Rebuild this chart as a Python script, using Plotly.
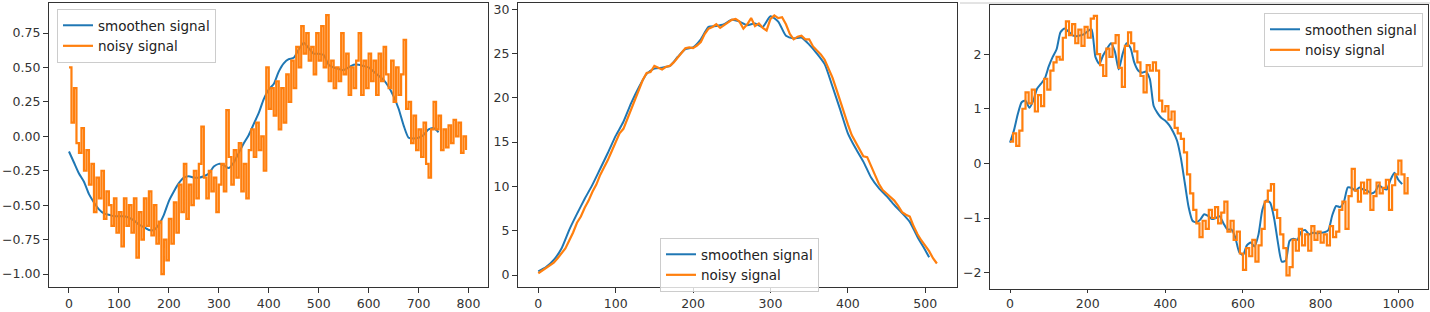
import plotly.graph_objects as go

# ---------------- Panel 1 data ----------------
p1_noisy_x = list(range(0, 800, 5))
p1_noisy_y = [
    0.50, 0.10, 0.35, -0.05, -0.12, 0.06, -0.25, -0.10, -0.35, -0.20,
    -0.55, -0.30, -0.45, -0.25, -0.60, -0.40, -0.50, -0.65, -0.45, -0.70,
    -0.55, -0.80, -0.45, -0.65, -0.50, -0.70, -0.45, -0.88, -0.55, -0.75,
    -0.45, -0.65, -0.40, -0.72, -0.50, -0.78, -0.62, -1.00, -0.75, -0.90,
    -0.60, -0.78, -0.48, -0.70, -0.35, -0.55, -0.20, -0.60, -0.35, -0.50,
    -0.25, -0.45, -0.20, 0.07, -0.30, -0.45, -0.25, -0.40, -0.30, -0.55,
    -0.35, -0.20, -0.40, 0.19, -0.15, -0.35, -0.10, -0.30, -0.05, -0.40,
    -0.20, -0.45, -0.10, 0.05, -0.15, 0.10, -0.10, 0.00, -0.25, 0.50,
    0.20, 0.35, 0.15, 0.40, 0.05, 0.35, 0.10, 0.45, 0.25, 0.55,
    0.35, 0.65, 0.50, 0.80, 0.60, 0.75, 0.55, 0.65, 0.45, 0.75,
    0.55, 0.80, 0.50, 0.88, 0.40, 0.55, 0.35, 0.50, 0.40, 0.75,
    0.45, 0.60, 0.30, 0.50, 0.35, 0.55, 0.75, 0.30, 0.55, 0.35,
    0.60, 0.40, 0.55, 0.30, 0.60, 0.40, 0.65, 0.45, 0.35, 0.55,
    0.25, 0.50, 0.30, 0.45, 0.70, 0.20, 0.25, -0.05, 0.15, -0.10,
    0.05, -0.15, 0.10, -0.20, -0.30, 0.05, 0.25, 0.05, 0.15, -0.10,
    0.05, -0.08, 0.08, -0.05, 0.12, 0.00, 0.10, -0.12, 0.00, -0.10,
]
p1_smooth_x = list(range(0, 750, 10))
p1_smooth_y = [
    -0.11, -0.19, -0.27, -0.33, -0.42, -0.48, -0.53, -0.56, -0.57, -0.58,
    -0.58, -0.58, -0.59, -0.61, -0.64, -0.66, -0.68, -0.68, -0.64, -0.57,
    -0.47, -0.40, -0.34, -0.30, -0.29, -0.30, -0.30, -0.29, -0.27, -0.22,
    -0.20, -0.21, -0.23, -0.19, -0.12, -0.05, 0.01, 0.09, 0.17, 0.27,
    0.34, 0.38, 0.47, 0.53, 0.56, 0.57, 0.63, 0.68, 0.64, 0.60,
    0.60, 0.59, 0.52, 0.50, 0.49, 0.48, 0.50, 0.52, 0.52, 0.51,
    0.50, 0.47, 0.44, 0.41, 0.36, 0.29, 0.20, 0.08, -0.01, -0.015,
    -0.01, 0.01, 0.05, 0.06, 0.03,
]
p1_xticks = [0, 100, 200, 300, 400, 500, 600, 700, 800]
p1_yticks = [-1.00, -0.75, -0.50, -0.25, 0.00, 0.25, 0.50, 0.75]

# ---------------- Panel 2 data ----------------
p2_smooth_x = list(range(0, 510, 10)) + [505]
p2_smooth_y = [
    0.4, 0.9, 1.7, 3.0, 5.1, 6.9, 8.6, 10.2, 12.0, 13.8,
    15.7, 17.3, 19.4, 21.2, 22.7, 23.3, 23.4, 23.6, 24.6, 25.5,
    25.7, 26.6, 28.0, 28.1, 28.3, 28.8, 28.6, 28.2, 28.4, 28.0,
    29.2, 28.6, 27.0, 26.7, 26.8, 26.0, 25.0, 23.8, 21.3, 18.7,
    16.0, 14.3, 12.8, 11.0, 9.8, 8.9, 7.9, 7.0, 6.0, 4.3,
    2.8, 2.0,
]
p2_noisy_x = list(range(0, 520, 5))
p2_noisy_y = [
    0.2, 0.5, 0.7, 1.0, 1.4, 1.9, 2.4, 3.0, 3.9, 4.8,
    5.9, 6.6, 7.6, 8.4, 9.4, 10.2, 11.3, 12.1, 13.0, 14.0,
    15.0, 16.0, 16.5, 17.6, 18.7, 20.0, 20.9, 22.0, 22.8, 22.9,
    23.6, 23.4, 23.2, 23.5, 23.6, 24.0, 24.5, 25.1, 25.6, 25.7,
    25.6, 25.9, 26.3, 27.2, 27.8, 28.0, 28.3, 27.9, 28.2, 28.5,
    28.8, 28.9, 28.6, 27.8, 28.3, 29.0, 28.1, 28.4, 27.9, 27.6,
    28.9, 29.3, 29.0, 29.1, 28.3, 27.2, 26.6, 26.9, 27.0, 26.6,
    26.6, 25.8, 25.4, 24.9, 24.3, 23.3, 22.3, 21.0, 19.6, 18.3,
    17.0, 15.8, 15.0, 14.3, 13.4, 13.3, 12.2, 11.3, 10.3, 9.6,
    9.2, 8.8, 8.4, 7.8, 7.1, 6.8, 6.6, 5.5, 4.6, 3.9,
    3.3, 2.7, 1.9, 1.3,
]
p2_xticks = [0, 100, 200, 300, 400, 500]
p2_yticks = [0, 5, 10, 15, 20, 25, 30]

# ---------------- Panel 3 data ----------------
p3_smooth_x = list(range(0, 1020, 10))
p3_smooth_y = [
    0.38, 0.60, 0.90, 1.12, 1.15, 1.02, 1.15, 1.37, 1.46, 1.56,
    1.78, 1.95, 2.09, 2.40, 2.47, 2.42, 2.35, 2.33, 2.34, 2.36,
    2.42, 2.46, 1.95, 1.82, 1.98, 2.10, 2.20, 2.05, 1.72, 2.00,
    2.20, 2.12, 1.85, 1.70, 1.66, 1.68, 1.55, 1.05, 0.92, 0.83,
    0.78, 0.70, 0.58, 0.42, 0.10, -0.35, -0.80, -1.05, -1.08, -1.03,
    -0.93, -0.96, -1.02, -1.00, -0.97, -1.10, -1.21, -1.21, -1.35, -1.62,
    -1.68, -1.50, -1.45, -1.52, -1.30, -0.85, -0.68, -0.72, -1.00, -1.45,
    -1.80, -1.78, -1.42, -1.38, -1.40, -1.25, -1.22, -1.30, -1.27, -1.28,
    -1.27, -1.26, -1.22, -0.95, -0.78, -0.80, -0.70, -0.44, -0.45, -0.50,
    -0.44, -0.48, -0.50, -0.55, -0.52, -0.40, -0.45, -0.48, -0.30, -0.17,
    -0.30, -0.38,
]
p3_noisy_x = list(range(0, 1032, 8))
p3_noisy_y = [
    0.40, 0.55, 0.32, 0.60, 1.00, 1.30, 1.10, 1.35, 0.95, 1.25,
    1.05, 1.55, 1.35, 1.70, 1.85, 1.95, 1.90, 2.30, 2.60, 2.35,
    2.55, 2.20, 2.45, 2.15, 2.50, 2.30, 2.65, 2.70, 2.00, 1.80,
    1.60, 2.10, 1.95, 2.20, 2.35, 1.75, 1.40, 2.15, 2.40, 2.20,
    2.05, 1.85, 1.60, 1.30, 1.80, 1.70, 1.85, 1.70, 1.15, 0.95,
    1.05, 0.80, 0.95, 0.65, 0.55, 0.45, 0.20, -0.20, -0.55, -0.85,
    -1.10, -1.35, -1.05, -1.20, -0.85, -1.00, -0.80, -1.10, -0.90, -0.70,
    -1.25, -1.05, -1.40, -1.25, -1.65, -1.95, -1.55, -1.70, -1.40, -1.80,
    -1.50, -1.20, -0.70, -0.50, -0.38, -0.85, -1.00, -1.30, -1.55, -2.05,
    -1.90, -1.40, -1.60, -1.20, -1.50, -1.30, -1.60, -1.15, -1.40, -1.25,
    -1.45, -1.30, -1.50, -1.15, -1.35, -1.25, -0.85, -0.70, -1.20, -0.60,
    -0.10, -0.50, -0.70, -0.35, -0.55, -0.30, -0.85, -0.60, -0.35, -0.55,
    -0.45, -0.30, -0.85, -0.40, -0.20, 0.05, -0.20, -0.55, -0.25,
]
p3_xticks = [0, 200, 400, 600, 800, 1000]
p3_yticks = [-2, -1, 0, 1, 2]

BLUE = "#1f77b4"
ORANGE = "#ff7f0e"
W, H = 1430, 312

fig = go.Figure()

panels = [
    ("x", "y", "legend", p1_smooth_x, p1_smooth_y, p1_noisy_x, p1_noisy_y, "hv"),
    ("x2", "y2", "legend2", p2_smooth_x, p2_smooth_y, p2_noisy_x, p2_noisy_y, "linear"),
    ("x3", "y3", "legend3", p3_smooth_x, p3_smooth_y, p3_noisy_x, p3_noisy_y, "hv"),
]
for xa, ya, lg, sx, sy, nx, ny, nshape in panels:
    fig.add_trace(go.Scatter(x=sx, y=sy, mode="lines", name="smoothen signal",
                             line=dict(color=BLUE, width=2, shape="spline", smoothing=0.6),
                             xaxis=xa, yaxis=ya, legend=lg))
    fig.add_trace(go.Scatter(x=nx, y=ny, mode="lines", name="noisy signal",
                             line=dict(color=ORANGE, width=2.2, shape=nshape),
                             xaxis=xa, yaxis=ya, legend=lg))

def px_x(a, b):
    return [a / W, b / W]

def px_y(top, bottom):
    return [1 - bottom / H, 1 - top / H]

def axis_style(ticklen=5):
    return dict(showline=True, mirror=True, linecolor="#333333", linewidth=1.3,
                ticks="outside", ticklen=ticklen, tickcolor="#333333", showgrid=False,
                zeroline=False, automargin=False,
                tickfont=dict(family="DejaVu Sans", size=12.5, color="#333"))

legend_common = dict(yanchor="top",
                     bgcolor="rgba(255,255,255,0.8)", bordercolor="#cccccc", borderwidth=1,
                     font=dict(family="DejaVu Sans", size=13.5, color="#222"), tracegroupgap=0)

fig.update_layout(
    template="none",
    width=W, height=H, margin=dict(l=0, r=0, t=0, b=0, pad=0),
    paper_bgcolor="white", plot_bgcolor="white",
    font=dict(family="DejaVu Sans", color="#333"),
    xaxis=dict(domain=px_x(49, 488), range=[-40, 839], tickvals=p1_xticks, anchor="y", **axis_style()),
    yaxis=dict(domain=px_y(3, 287), range=[-1.094, 0.968], tickvals=p1_yticks, tickformat=".2f",
               anchor="x", **axis_style()),
    xaxis2=dict(domain=px_x(518, 957), range=[-26.2, 541], tickvals=p2_xticks, anchor="y2", **axis_style()),
    yaxis2=dict(domain=px_y(3, 287), range=[-1.35, 30.7], tickvals=p2_yticks, anchor="x2", **axis_style()),
    xaxis3=dict(domain=px_x(990, 1428), range=[-51.5, 1076.5], tickvals=p3_xticks, anchor="y3",
                **axis_style(3)),
    yaxis3=dict(domain=px_y(5, 289), range=[-2.30, 2.90], tickvals=p3_yticks, anchor="x3", **axis_style()),
    legend=dict(x=57 / W, y=1 - 9 / H, xanchor="left", **legend_common),
    legend2=dict(x=660 / W, y=1 - 238 / H, xanchor="left", **legend_common),
    legend3=dict(x=1423 / W, y=1 - 13 / H, xanchor="right", **legend_common),
    showlegend=True,
    shapes=[dict(type="line", xref="paper", yref="paper", x0=960 / W, x1=1.0,
                 y0=1 - 3 / H, y1=1 - 3 / H, line=dict(color="#c8c8c8", width=1))],
)

fig.write_html(
    "out.html",
    config={"displayModeBar": False},
    post_script="document.body.style.margin='0';document.body.style.padding='0';"
                "document.body.style.overflow='hidden';",
)
